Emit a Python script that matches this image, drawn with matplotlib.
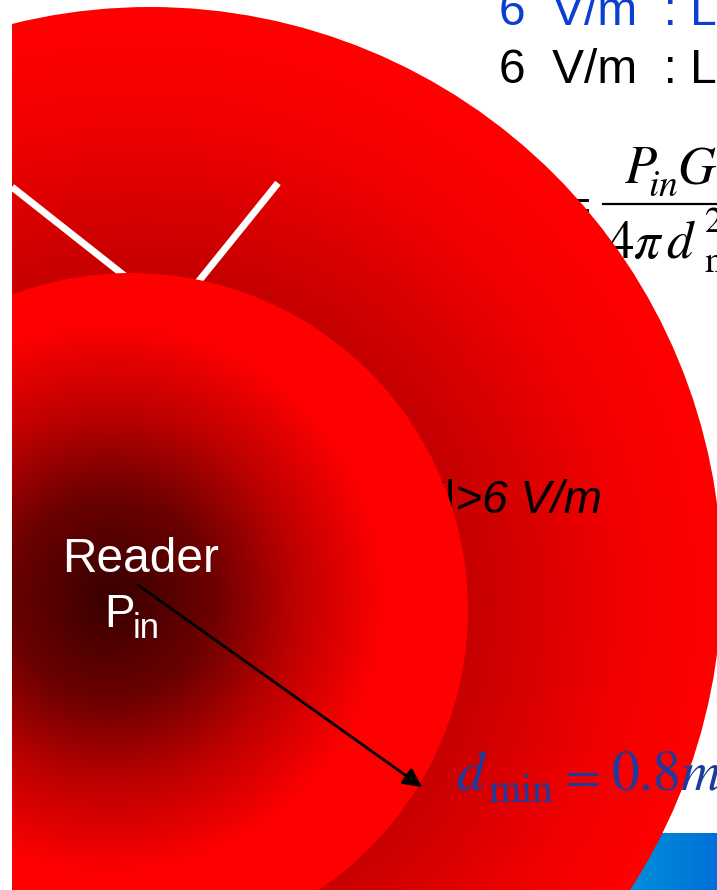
import numpy as np
import matplotlib
matplotlib.use("Agg")
import matplotlib.pyplot as plt
from matplotlib.patches import Circle, Rectangle

W, H = 717, 890

# shapes (pixel coordinates, y downwards)
outer_circle = [150, 579, 572]      # cx, cy, r
inner_circle = [131, 610, 337]
outer_glow = [140, 600]             # dark spot of outer gradient
inner_glow = [110, 598]             # dark spot of inner gradient
antenna_a = [[12, 187], [140, 288]]
antenna_b = [[278, 183], [190, 292]]
arrow_from = [138, 585]
arrow_to = [422, 787]

# gradient stops: relative distance -> red level
outer_stops_t = [0.0, 0.6, 0.85, 1.0]
outer_stops_c = [0.45, 0.79, 0.95, 1.0]
inner_stops_t = [0.0, 0.3, 0.55, 0.82, 1.0]
inner_stops_c = [0.22, 0.42, 0.74, 1.0, 1.0]

top_lines = ["6  V/m  : L", "6  V/m  : L"]
top_colors = ["#0a3fd0", "black"]
field_label = "|E|>6 V/m"
reader_label = "Reader"
dmin_parts = [r"$d$", r"$\rm min$", r"$=$", r"$0.8$", r"$m$"]

plt.rcParams['mathtext.fontset'] = 'stix'
sans = ['Liberation Sans', 'DejaVu Sans']

fig = plt.figure(figsize=(W / 100, H / 100), dpi=100)
ax = fig.add_axes([0, 0, 1, 1])
ax.set_xlim(0, W)
ax.set_ylim(H, 0)
ax.axis('off')

yy, xx = np.mgrid[0:H, 0:W] + 0.5


def red_image(glow, r, ts, cs):
    d = np.hypot(xx - glow[0], yy - glow[1]) / r
    c = np.interp(d, ts, cs)
    img = np.zeros((H, W, 4))
    img[..., 0] = c
    img[..., 3] = 1.0
    return img


# formula behind the big circle
ax.text(591, 204, r"$E =$", fontsize=36, ha='right', va='center', zorder=1)
ax.text(624, 183, r"$P$", fontsize=38, ha='left', va='baseline', zorder=1)
ax.text(648, 196, r"$in$", fontsize=27, ha='left', va='baseline', zorder=1)
ax.text(677, 183, r"$G$", fontsize=38, ha='left', va='baseline', zorder=1)
ax.plot([603, 730], [204, 204], color='black', lw=1.6, zorder=1)
ax.text(607, 258, r"$4\pi\,d$", fontsize=38, ha='left', va='baseline', zorder=1)
ax.text(704, 232, r"$2$", fontsize=26, ha='left', va='baseline', zorder=1)
ax.text(704, 272, r"$\rm min$", fontsize=26, ha='left', va='baseline', zorder=1)

# blue bar bottom right
grad = np.linspace(0, 1, 100)
blue = np.zeros((1, 100, 3))
blue[0, :, 1] = 0.60 - 0.16 * grad
blue[0, :, 2] = 0.85
ax.imshow(blue, extent=(600, W, 890, 833), aspect='auto', zorder=1)

# outer circle
oc = Circle(outer_circle[:2], outer_circle[2], transform=ax.transData, fc='none', ec='none')
ax.add_patch(oc)
im = ax.imshow(red_image(outer_glow, outer_circle[2], outer_stops_t, outer_stops_c),
               extent=(0, W, H, 0), zorder=2, interpolation='bilinear')
im.set_clip_path(oc)

# antenna lines
for seg in [antenna_a, antenna_b]:
    ax.plot([seg[0][0], seg[1][0]], [seg[0][1], seg[1][1]], color='white', lw=5,
            solid_capstyle='butt', zorder=3)

ax.text(602, 513, field_label, fontsize=33, style='italic', family=sans,
        ha='right', va='baseline', zorder=3)

# inner circle
ic = Circle(inner_circle[:2], inner_circle[2], transform=ax.transData, fc='none', ec='none')
ax.add_patch(ic)
im2 = ax.imshow(red_image(inner_glow, inner_circle[2], inner_stops_t, inner_stops_c),
                extent=(0, W, H, 0), zorder=4, interpolation='bilinear')
im2.set_clip_path(ic)

ax.text(141, 572, reader_label, fontsize=34.5, color='white', family=sans,
        ha='center', va='baseline', zorder=6)
ax.text(104, 627, "P", fontsize=33, color='white', family=sans,
        ha='left', va='baseline', zorder=6)
ax.text(133, 638, "in", fontsize=25, color='white', family=sans,
        ha='left', va='baseline', zorder=6)

ax.annotate("", xy=arrow_to, xytext=arrow_from,
            arrowprops=dict(arrowstyle='-|>', color='black', lw=2,
                            mutation_scale=28, shrinkA=0, shrinkB=0), zorder=6)

# d_min = 0.8m
dmin_x = [456, 488, 558, 611, 680]
dmin_y = [790, 802, 790, 790, 790]
dmin_size = [40, 30, 36, 40, 40]
for s, x, y, fs in zip(dmin_parts, dmin_x, dmin_y, dmin_size):
    ax.text(x, y, s, fontsize=fs, color='#1b3c9e', ha='left', va='baseline', zorder=6)

for i, (s, c) in enumerate(zip(top_lines, top_colors)):
    ax.text(499, 25 + 58 * i, s, fontsize=34.5, color=c, family=sans,
            ha='left', va='baseline', zorder=6)

# white margin on the left
ax.add_patch(Rectangle((0, 0), 12, H, fc='white', ec='none', zorder=10))

fig.savefig("out.png", dpi=100)
